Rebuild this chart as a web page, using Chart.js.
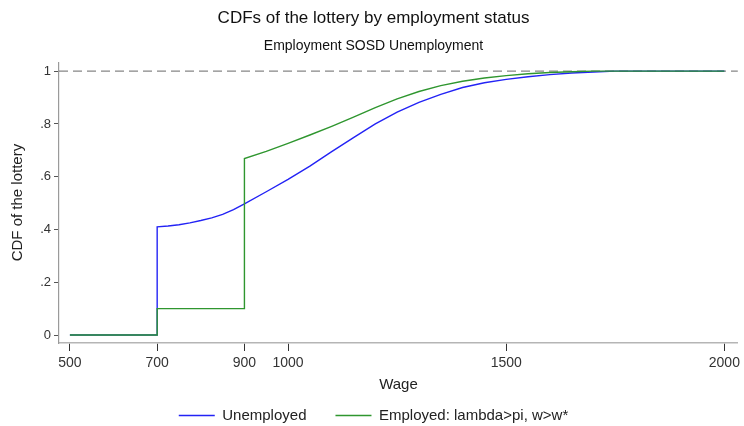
<!DOCTYPE html>
<html>
<head>
<meta charset="utf-8">
<script src="https://cdn.jsdelivr.net/npm/chart.js@4/dist/chart.umd.min.js"></script>
<style>
  html, body { margin: 0; padding: 0; background: #ffffff; }
  #wrap { width: 744px; height: 426px; }
</style>
</head>
<body>
<div id="wrap"><canvas id="c" width="744" height="426"></canvas></div>
<script>
// ---- data ----
const unemployedWage = [500, 700, 700, 725, 750, 775, 800, 825, 850, 875, 900, 950, 1000, 1050, 1100, 1150, 1200, 1250, 1300, 1350, 1400, 1450, 1500, 1550, 1600, 1650, 1700, 1750, 2000];
const unemployedCdf  = [0, 0, 0.41, 0.413, 0.418, 0.425, 0.434, 0.444, 0.457, 0.475, 0.497, 0.543, 0.59, 0.64, 0.695, 0.748, 0.80, 0.845, 0.882, 0.912, 0.938, 0.956, 0.969, 0.979, 0.987, 0.993, 0.997, 1.0, 1.0];

const employedWage = [500, 700, 700, 900, 900, 950, 1000, 1050, 1100, 1150, 1200, 1250, 1300, 1350, 1400, 1450, 1500, 1550, 1600, 1650, 1700, 2000];
const employedCdf  = [0, 0, 0.10, 0.10, 0.669, 0.696, 0.726, 0.758, 0.791, 0.826, 0.862, 0.895, 0.923, 0.945, 0.962, 0.974, 0.983, 0.990, 0.995, 0.998, 1.0, 1.0];

const refLineY = 1;
const xTicks = [500, 700, 900, 1000, 1500, 2000];
const yTicks = [0, 0.2, 0.4, 0.6, 0.8, 1];

const seriesNames = ['Unemployed', 'Employed: lambda>pi, w>w*'];
const titleText = 'CDFs of the lottery by employment status';
const subtitleText = 'Employment SOSD Unemployment';
const xTitle = 'Wage';
const yTitle = 'CDF of the lottery';

const X_MIN = 475, X_MAX = 2031, Y_MIN = -0.0303, Y_MAX = 1.034;

const toPts = (xs, ys) => xs.map((x, i) => ({ x: x, y: ys[i] }));

const FONT = "'Liberation Sans', Arial, Helvetica, sans-serif";

new Chart(document.getElementById('c'), {
  type: 'line',
  data: {
    datasets: [
      {
        label: seriesNames[0],
        data: toPts(unemployedWage, unemployedCdf),
        borderColor: '#2323f5',
        backgroundColor: '#2323f5',
        borderWidth: 1.4,
        pointRadius: 0,
        tension: 0,
        order: 2
      },
      {
        label: seriesNames[1],
        data: toPts(employedWage, employedCdf),
        borderColor: '#2f962f',
        backgroundColor: '#2f962f',
        borderWidth: 1.4,
        pointRadius: 0,
        tension: 0,
        order: 1
      },
      {
        label: 'ref',
        data: [{ x: X_MIN, y: refLineY }, { x: X_MAX, y: refLineY }],
        borderColor: '#868686',
        borderWidth: 1.4,
        borderDash: [9, 5],
        pointRadius: 0,
        order: 3
      }
    ]
  },
  options: {
    responsive: false,
    animation: false,
    devicePixelRatio: 1,
    layout: { padding: { left: 6, right: 3, top: 0, bottom: -7 } },
    plugins: {
      tooltip: { enabled: false },
      title: {
        display: true,
        text: titleText,
        color: '#111',
        font: { family: FONT, size: 17, weight: 'normal' },
        padding: { top: 8, bottom: 4 }
      },
      subtitle: {
        display: true,
        text: subtitleText,
        color: '#111',
        font: { family: FONT, size: 14, weight: 'normal' },
        padding: { top: 5, bottom: 8 }
      },
      legend: {
        position: 'bottom',
        labels: {
          filter: (item) => item.text !== 'ref',
          sort: (a, b) => a.datasetIndex - b.datasetIndex,
          usePointStyle: true,
          pointStyle: 'line',
          pointStyleWidth: 36,
          color: '#222',
          font: { family: FONT, size: 15 },
          padding: 29,
          generateLabels: (chart) => {
            const base = Chart.defaults.plugins.legend.labels.generateLabels(chart);
            return base.map(l => Object.assign(l, { pointStyle: 'line', lineWidth: 1.6 }));
          }
        }
      }
    },
    scales: {
      x: {
        type: 'linear',
        min: X_MIN,
        max: X_MAX,
        afterBuildTicks: (s) => { s.ticks = xTicks.map(v => ({ value: v })); },
        afterFit: (s) => { s.height = 36; },
        ticks: {
          color: '#333',
          font: { family: FONT, size: 14 },
          padding: 4,
          maxRotation: 0,
          autoSkip: false,
          callback: (v) => String(v)
        },
        grid: { drawOnChartArea: false, drawTicks: true, tickLength: 8, color: '#333', lineWidth: 1 },
        border: { display: true, color: '#b5b5b5', width: 1.6 },
        title: { display: true, text: xTitle, color: '#222', font: { family: FONT, size: 15 }, padding: { top: 0, bottom: -15 } }
      },
      y: {
        type: 'linear',
        min: Y_MIN,
        max: Y_MAX,
        afterBuildTicks: (s) => { s.ticks = yTicks.map(v => ({ value: v })); },
        afterFit: (s) => { s.width = 53; },
        ticks: {
          color: '#333',
          font: { family: FONT, size: 13 },
          padding: 3,
          callback: (v) => {
            if (v === 0) return '0';
            if (v === 1) return '1';
            return String(Number(v.toFixed(1))).replace(/^0/, '');
          }
        },
        grid: { drawOnChartArea: false, drawTicks: true, tickLength: 5, color: '#555', lineWidth: 1 },
        border: { display: true, color: '#9a9a9a', width: 1.2 },
        title: { display: true, text: yTitle, color: '#222', font: { family: FONT, size: 15 }, padding: { top: 3, bottom: 0 } }
      }
    }
  }
});
</script>
</body>
</html>
